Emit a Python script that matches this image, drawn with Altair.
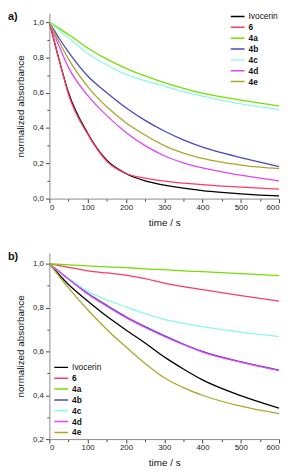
import altair as alt
import pandas as pd

series = ["Ivocerin", "6", "4a", "4b", "4c", "4d", "4e"]
colors = ["#000000", "#ff3a62", "#72e000", "#4848c0", "#8ef7e8", "#e045f0", "#a8a82a"]

# Panel a
t_a = [0, 25, 50, 100, 150, 200, 250, 300, 350, 400, 450, 500, 550, 600]
a_ivocerin = [1.0, 0.79, 0.60, 0.37, 0.217, 0.142, 0.100, 0.077, 0.059, 0.045, 0.035, 0.027, 0.020, 0.015]
a_6 = [1.0, 0.79, 0.59, 0.365, 0.212, 0.142, 0.116, 0.099, 0.088, 0.079, 0.071, 0.065, 0.059, 0.054]
a_4a = [1.0, 0.965, 0.93, 0.853, 0.79, 0.738, 0.695, 0.657, 0.625, 0.597, 0.576, 0.558, 0.541, 0.526]
a_4b = [1.0, 0.91, 0.83, 0.695, 0.60, 0.515, 0.443, 0.383, 0.333, 0.292, 0.26, 0.232, 0.206, 0.181]
a_4c = [1.0, 0.955, 0.912, 0.822, 0.757, 0.704, 0.667, 0.637, 0.606, 0.58, 0.557, 0.537, 0.52, 0.504]
a_4d = [1.0, 0.865, 0.742, 0.585, 0.47, 0.375, 0.30, 0.243, 0.203, 0.174, 0.152, 0.133, 0.116, 0.101]
a_4e = [1.0, 0.89, 0.79, 0.635, 0.52, 0.43, 0.36, 0.30, 0.258, 0.228, 0.206, 0.19, 0.178, 0.17]

# Panel b
t_b = [0, 50, 100, 150, 200, 250, 300, 350, 400, 500, 600]
b_ivocerin = [1.0, 0.905, 0.83, 0.76, 0.698, 0.638, 0.575, 0.52, 0.47, 0.398, 0.341]
b_6 = [1.0, 0.984, 0.968, 0.958, 0.948, 0.932, 0.912, 0.896, 0.882, 0.855, 0.829]
b_4a = [1.0, 0.995, 0.99, 0.986, 0.982, 0.977, 0.973, 0.968, 0.964, 0.955, 0.946]
b_4b = [1.0, 0.93, 0.865, 0.81, 0.758, 0.713, 0.672, 0.634, 0.60, 0.553, 0.515]
b_4c = [1.0, 0.935, 0.875, 0.835, 0.803, 0.772, 0.746, 0.728, 0.713, 0.688, 0.668]
b_4d = [1.0, 0.93, 0.862, 0.806, 0.754, 0.709, 0.668, 0.631, 0.597, 0.551, 0.512]
b_4e = [1.0, 0.89, 0.79, 0.70, 0.62, 0.545, 0.48, 0.435, 0.40, 0.35, 0.316]

x_ticks = [0, 50, 100, 150, 200, 250, 300, 350, 400, 450, 500, 550, 600]
ya_ticks = [0.0, 0.1, 0.2, 0.3, 0.4, 0.5, 0.6, 0.7, 0.8, 0.9, 1.0]
yb_ticks = [0.2, 0.3, 0.4, 0.5, 0.6, 0.7, 0.8, 0.9, 1.0]


def long_df(t, cols):
    rows = []
    for name, vals in zip(series, cols):
        for tt, v in zip(t, vals):
            rows.append({"t": tt, "v": v, "s": name, "o": series.index(name)})
    return pd.DataFrame(rows)


df_a = long_df(t_a, [a_ivocerin, a_6, a_4a, a_4b, a_4c, a_4d, a_4e])
df_b = long_df(t_b, [b_ivocerin, b_6, b_4a, b_4b, b_4c, b_4d, b_4e])

FONT = "Liberation Sans"

x_axis = alt.Axis(
    values=x_ticks,
    labelExpr="datum.value % 100 === 0 ? datum.label : ''",
    tickSize={"condition": {"test": "datum.value % 100 === 0", "value": 4}, "value": 2.5},
    grid=False, title="time / s", labelFontSize=8, titleFontSize=10,
    labelPadding=1, titlePadding=6, domainColor="#8a8a8a", tickColor="#444",
    labelColor="#222", titleColor="#111", titleFontWeight="normal",
    labelFont=FONT, titleFont=FONT,
)


def y_axis(vals):
    return alt.Axis(
        values=vals,
        labelExpr="round(datum.value*10) % 2 === 0 ? replace(format(datum.value, '.1f'), '.', ',') : ''",
        tickSize={"condition": {"test": "round(datum.value*10) % 2 === 0", "value": 4}, "value": 2.5},
        grid=False, title="normalized absorbance", labelFontSize=8, titleFontSize=10,
        labelPadding=2, titlePadding=7, domainColor="#8a8a8a", tickColor="#444",
        labelColor="#222", titleColor="#111", titleFontWeight="normal",
        labelFont=FONT, titleFont=FONT,
    )


def panel(df, ydom, yvals, height, lx, ly, label):
    legend = alt.Legend(
        orient="none", legendX=lx, legendY=ly, title=None,
        symbolType="M-1.6,0H1.6", symbolSize=100, symbolStrokeWidth=1.5,
        labelFontSize=8.5, labelFont=FONT, labelColor="#111",
        labelFontWeight=alt.ExprRef("datum.label == 'Ivocerin' ? 'normal' : 'bold'"),
        clipHeight=8.5, rowPadding=2.0, labelOffset=6, padding=0,
    )
    lines = alt.Chart(df).mark_line(strokeWidth=1.3, interpolate="monotone").encode(
        x=alt.X("t:Q", scale=alt.Scale(domain=[0, 600], nice=False), axis=x_axis),
        y=alt.Y("v:Q", scale=alt.Scale(domain=ydom, nice=False, zero=False), axis=y_axis(yvals)),
        color=alt.Color("s:N", scale=alt.Scale(domain=series, range=colors), legend=legend),
        order="o:Q",
    )
    lab = alt.Chart(pd.DataFrame({"l": [label]})).mark_text(
        font=FONT, fontSize=11, fontWeight="bold", align="left", baseline="middle", color="#111"
    ).encode(text="l:N", x=alt.value(-42), y=alt.value(4))
    return alt.layer(lines, lab).properties(width=233, height=height)


pa = panel(df_a, [0, 1.05], ya_ticks, 188, 184, -1, "a)")
pb = panel(df_b, [0.2, 1.05], yb_ticks, 189, 5, 112, "b)")

chart = alt.vconcat(pa, pb, spacing=24).resolve_scale(
    color="independent", y="independent"
).resolve_legend(color="independent").properties(
    padding={"left": 0, "top": 0, "right": 0, "bottom": 0}
).configure_view(stroke=None)

chart.save("out.html", embed_options={"renderer": "svg", "actions": False})
